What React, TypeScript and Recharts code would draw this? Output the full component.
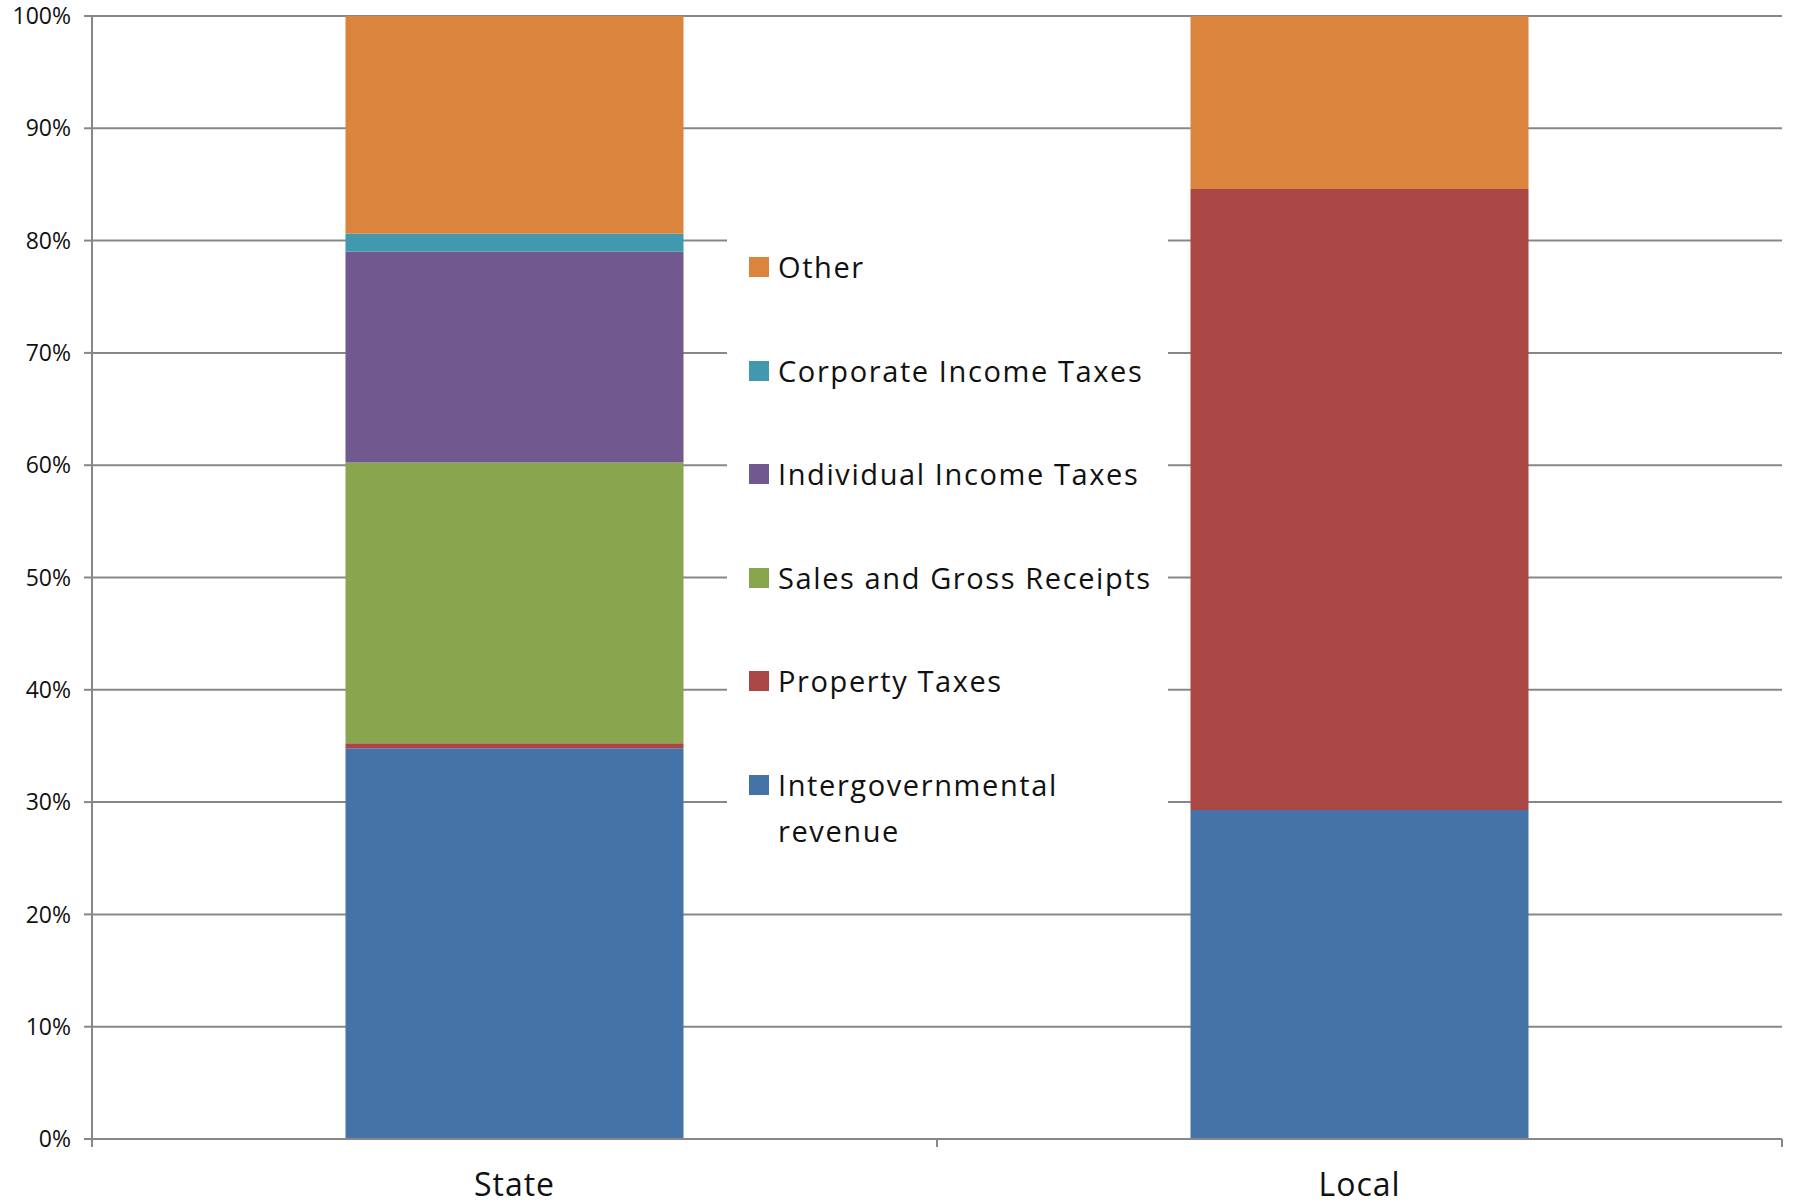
import React from 'react';
import {
  BarChart,
  Bar,
  XAxis,
  YAxis,
  CartesianGrid,
  Legend,
} from 'recharts';

// values, in percent of total revenue
const categories = ['State', 'Local'];
const intergovernmental = [34.8, 29.3];
const propertyTaxes = [0.45, 55.3];
const salesGross = [25.0, 0];
const individualIncome = [18.75, 0];
const corporateIncome = [1.6, 0];
const other = [19.4, 15.4];
const yTicks = [0, 10, 20, 30, 40, 50, 60, 70, 80, 90, 100];
// legend lists the stack from top to bottom
const legendOrder = ['other', 'corporate', 'individual', 'sales', 'property', 'intergovernmental'];

const data = categories.map((name, i) => ({
  name,
  intergovernmental: intergovernmental[i],
  property: propertyTaxes[i],
  sales: salesGross[i],
  individual: individualIncome[i],
  corporate: corporateIncome[i],
  other: other[i],
}));

const FONT = '"Open Sans", sans-serif';
const GRID = '#878787';
const X_TICK_MARGIN = 34;

const CategoryTick = (props: any) => {
  const { x, y, payload, index, visibleTicksCount } = props;
  const half = payload.offset ?? 0;
  const axisY = y - X_TICK_MARGIN;
  return (
    <g>
      <line x1={x - half} x2={x - half} y1={axisY} y2={axisY + 8} stroke={GRID} strokeWidth={2} />
      {index === visibleTicksCount - 1 && (
        <line x1={x + half} x2={x + half} y1={axisY} y2={axisY + 8} stroke={GRID} strokeWidth={2} />
      )}
      <text
        x={x}
        y={y}
        dy='0.71em'
        textAnchor='middle'
        fill='#111'
        style={{ fontFamily: FONT, fontSize: 32, letterSpacing: 1 }}
      >
        {payload.value}
      </text>
    </g>
  );
};

const renderLegend = (props: any) => {
  const items = [...(props.payload || [])].sort(
    (a: any, b: any) => legendOrder.indexOf(a.dataKey) - legendOrder.indexOf(b.dataKey)
  );
  return (
    <div
      style={{
        width: '100%',
        height: '100%',
        background: '#fff',
        paddingTop: 29,
        boxSizing: 'border-box',
      }}
    >
      {items.map((entry: any, i: number) => (
        <div
          key={i}
          style={{ display: 'flex', alignItems: 'flex-start', height: 103.6, paddingLeft: 22 }}
        >
          <div
            style={{
              width: 20,
              height: 20,
              marginTop: 13,
              backgroundColor: entry.color,
              flexShrink: 0,
            }}
          />
          <span
            style={{
              marginLeft: 9,
              fontFamily: FONT,
              fontSize: 29,
              lineHeight: '46px',
              letterSpacing: 1.6,
              color: '#111',
              width: 395,
              textAlign: 'left',
            }}
          >
            {entry.value}
          </span>
        </div>
      ))}
    </div>
  );
};

export default function App() {
  return (
    <div style={{ position: 'absolute', left: 0, top: 0, background: '#fff' }}>
      <BarChart
        width={1795}
        height={1204}
        data={data}
        margin={{ top: 16, right: 13, bottom: 0, left: 0 }}
        barCategoryGap='30%'
      >
        <CartesianGrid vertical={false} stroke={GRID} strokeWidth={2} />
        <XAxis
          dataKey='name'
          height={65}
          axisLine={{ stroke: GRID, strokeWidth: 2 }}
          tickLine={false}
          tickSize={0}
          tickMargin={X_TICK_MARGIN}
          tick={<CategoryTick />}
          interval={0}
        />
        <YAxis
          width={92}
          domain={[0, 100]}
          ticks={yTicks}
          tickFormatter={(v) => `${v}%`}
          axisLine={{ stroke: GRID, strokeWidth: 2 }}
          tickLine={{ stroke: GRID, strokeWidth: 2 }}
          tickSize={8}
          tickMargin={13}
          tick={{ fontFamily: FONT, fontSize: 23, fill: '#111' }}
          allowDataOverflow
        />
        <Legend
          layout='horizontal'
          verticalAlign='middle'
          align='center'
          content={renderLegend}
          wrapperStyle={{ left: 727, top: 215, width: 441, height: 665 }}
        />
        <Bar dataKey='intergovernmental' name='Intergovernmental revenue' stackId='a' fill='#4572A7' isAnimationActive={false} />
        <Bar dataKey='property' name='Property Taxes' stackId='a' fill='#AA4643' isAnimationActive={false} />
        <Bar dataKey='sales' name='Sales and Gross Receipts' stackId='a' fill='#89A54E' isAnimationActive={false} />
        <Bar dataKey='individual' name='Individual Income Taxes' stackId='a' fill='#71588F' isAnimationActive={false} />
        <Bar dataKey='corporate' name='Corporate Income Taxes' stackId='a' fill='#4198AF' isAnimationActive={false} />
        <Bar dataKey='other' name='Other' stackId='a' fill='#DB843D' isAnimationActive={false} />
      </BarChart>
    </div>
  );
}
